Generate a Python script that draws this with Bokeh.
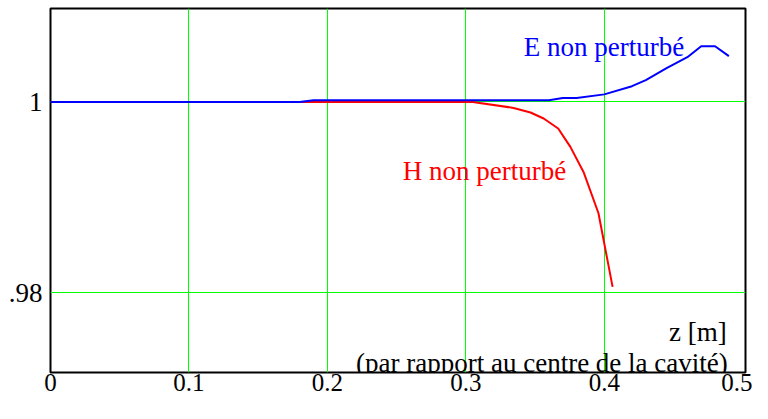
from bokeh.plotting import figure
from bokeh.models import Range1d, FixedTicker, Label
from bokeh.embed import file_html
from bokeh.resources import INLINE

# Data
E_z = [0.0, 0.18, 0.19, 0.36, 0.37, 0.38, 0.40, 0.42, 0.43, 0.445, 0.46, 0.47, 0.48, 0.49]
E_v = [1.0, 1.0, 1.00018, 1.00018, 1.00042, 1.00042, 1.00079, 1.00165, 1.00228,
       1.00354, 1.00469, 1.00584, 1.00584, 1.0048]

H_z = [0.0, 0.305, 0.3345, 0.3467, 0.3562, 0.3667, 0.3755, 0.385, 0.3958, 0.406]
H_v = [1.0, 1.0, 0.99937, 0.99889, 0.99826, 0.99721, 0.99528, 0.99265, 0.98832, 0.98059]

x_ticks = [0.0, 0.1, 0.2, 0.3, 0.4, 0.5]
y_ticks = [0.98, 1.0]
y_tick_labels = [".98", "1"]

E_label = "E non perturbé"
H_label = "H non perturbé"
x_title = "z [m]"
x_subtitle = "(par rapport au centre de la cavité)"

FONT = "Liberation Serif"
FS = "27px"

p = figure(width=752, height=403, output_backend="svg", toolbar_location=None,
           x_range=Range1d(0, 0.502), y_range=Range1d(0.97161, 1.0098),
           min_border_left=50, min_border_right=7, min_border_top=8,
           min_border_bottom=31)

p.background_fill_color = "white"
p.border_fill_color = "white"
p.outline_line_color = "black"
p.outline_line_width = 2

p.xaxis.ticker = FixedTicker(ticks=x_ticks)
p.yaxis.ticker = FixedTicker(ticks=y_ticks)
p.yaxis.major_label_overrides = {t: l for t, l in zip(y_ticks, y_tick_labels)}
p.xaxis.major_label_overrides = {0.0: "0"}

for ax in (p.xaxis, p.yaxis):
    ax.axis_line_color = None
    ax.major_tick_line_color = None
    ax.minor_tick_line_color = None
    ax.major_tick_in = 0
    ax.major_tick_out = 0
    ax.major_label_text_font = FONT
    ax.major_label_text_color = "black"

p.xaxis.major_label_text_font_size = "25px"
p.yaxis.major_label_text_font_size = FS
p.xaxis.major_label_standoff = 1
p.yaxis.major_label_standoff = 8

p.xgrid.ticker = FixedTicker(ticks=[0.1, 0.2, 0.3, 0.4])
p.ygrid.ticker = FixedTicker(ticks=y_ticks)
for g in (p.xgrid, p.ygrid):
    g.grid_line_color = "#00ff00"
    g.grid_line_width = 1
    g.grid_line_alpha = 1.0

p.line(H_z, H_v, line_color="#ff0000", line_width=2)
p.line(E_z, E_v, line_color="#0000ff", line_width=2)

p.add_layout(Label(x=0.3419, y=1.00574, text=E_label, text_font=FONT,
                   text_font_size=FS, text_color="#0000ff",
                   text_baseline="alphabetic", text_align="left"))
p.add_layout(Label(x=0.2545, y=0.99273, text=H_label, text_font=FONT,
                   text_font_size=FS, text_color="#ff0000",
                   text_baseline="alphabetic", text_align="left"))
p.add_layout(Label(x=0.4884, y=0.97581, text=x_title, text_font=FONT,
                   text_font_size=FS, text_color="black",
                   text_baseline="alphabetic", text_align="right"))
p.add_layout(Label(x=0.4892, y=0.97265, text=x_subtitle, text_font=FONT,
                   text_font_size=FS, text_color="black",
                   text_baseline="alphabetic", text_align="right"))

open("out.html", "w").write(file_html(p, INLINE))
